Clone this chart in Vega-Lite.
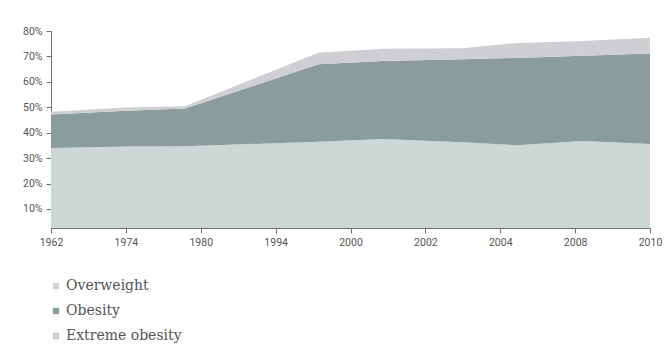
{
  "$schema": "https://vega.github.io/schema/vega-lite/v6.json",
  "width": 599,
  "height": 197,
  "autosize": {"type": "none"},
  "padding": {"left": 51, "top": 31, "right": 16, "bottom": 127},
  "background": "white",
  "config": {"view": {"stroke": null}},
  "data": {"values": [
    {"i": 0, "s": "Overweight", "k": 1, "v": 34.0},
    {"i": 0, "s": "Obesity", "k": 2, "v": 13.2},
    {"i": 0, "s": "Extreme obesity", "k": 3, "v": 1.0},
    {"i": 1, "s": "Overweight", "k": 1, "v": 34.6},
    {"i": 1, "s": "Obesity", "k": 2, "v": 14.0},
    {"i": 1, "s": "Extreme obesity", "k": 3, "v": 1.3},
    {"i": 1.79, "s": "Overweight", "k": 1, "v": 34.7},
    {"i": 1.79, "s": "Obesity", "k": 2, "v": 14.8},
    {"i": 1.79, "s": "Extreme obesity", "k": 3, "v": 0.9},
    {"i": 3.57, "s": "Overweight", "k": 1, "v": 36.4},
    {"i": 3.57, "s": "Obesity", "k": 2, "v": 30.5},
    {"i": 3.57, "s": "Extreme obesity", "k": 3, "v": 4.5},
    {"i": 4.43, "s": "Overweight", "k": 1, "v": 37.5},
    {"i": 4.43, "s": "Obesity", "k": 2, "v": 30.7},
    {"i": 4.43, "s": "Extreme obesity", "k": 3, "v": 4.8},
    {"i": 5.5, "s": "Overweight", "k": 1, "v": 36.2},
    {"i": 5.5, "s": "Obesity", "k": 2, "v": 32.7},
    {"i": 5.5, "s": "Extreme obesity", "k": 3, "v": 4.3},
    {"i": 6.22, "s": "Overweight", "k": 1, "v": 35.1},
    {"i": 6.22, "s": "Obesity", "k": 2, "v": 34.3},
    {"i": 6.22, "s": "Extreme obesity", "k": 3, "v": 5.9},
    {"i": 7.1, "s": "Overweight", "k": 1, "v": 36.7},
    {"i": 7.1, "s": "Obesity", "k": 2, "v": 33.6},
    {"i": 7.1, "s": "Extreme obesity", "k": 3, "v": 5.8},
    {"i": 8, "s": "Overweight", "k": 1, "v": 35.5},
    {"i": 8, "s": "Obesity", "k": 2, "v": 35.6},
    {"i": 8, "s": "Extreme obesity", "k": 3, "v": 6.2}
  ]},
  "mark": {"type": "area", "clip": true, "interpolate": "linear"},
  "encoding": {
    "x": {
      "field": "i", "type": "quantitative",
      "scale": {"domain": [0, 8], "nice": false, "zero": false},
      "axis": {
        "title": null, "values": [0,1,2,3,4,5,6,7,8], "grid": false,
        "labelExpr": "['1962','1974','1980','1994','2000','2002','2004','2008','2010'][datum.value]",
        "domainColor": "#707070", "tickColor": "#707070", "tickSize": 5,
        "labelColor": "#555555", "labelFont": "Roboto", "labelFontSize": 10.5,
        "labelPadding": 4, "labelFlush": false
      }
    },
    "y": {
      "field": "v", "type": "quantitative", "stack": "zero",
      "scale": {"domain": [2.5, 80], "nice": false, "zero": false},
      "axis": {
        "title": null, "values": [10,20,30,40,50,60,70,80], "grid": false,
        "labelExpr": "datum.value + '%'",
        "domainColor": "#707070", "tickColor": "#707070", "tickSize": 5,
        "labelColor": "#555555", "labelFont": "Roboto", "labelFontSize": 10.5,
        "labelPadding": 4
      }
    },
    "order": {"field": "k", "type": "quantitative"},
    "color": {
      "field": "s", "type": "nominal",
      "scale": {"domain": ["Overweight", "Obesity", "Extreme obesity"], "range": ["#cdd7d6", "#8a9c9c", "#cfcfd3"]},
      "legend": {
        "title": null, "orient": "none", "legendX": -2, "legendY": 248,
        "direction": "vertical", "symbolType": "square", "symbolSize": 40,
        "symbolStrokeWidth": 0,
        "labelFont": "DejaVu Serif", "labelFontSize": 14, "labelColor": "#555555",
        "rowPadding": 11, "labelOffset": 3
      }
    }
  }
}
